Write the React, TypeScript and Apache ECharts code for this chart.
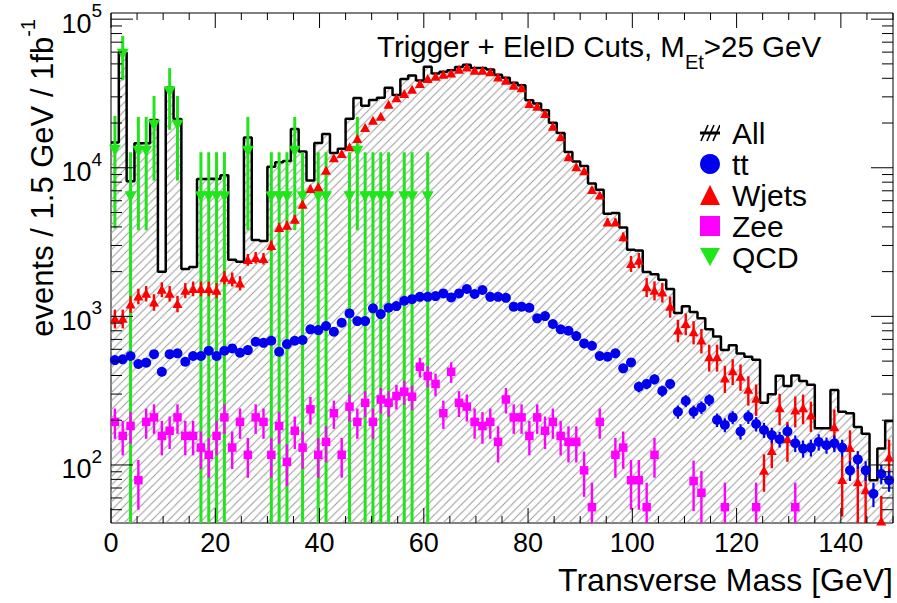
import { useEffect, useRef } from 'react';
import * as echarts from 'echarts';

const FONT = '"Liberation Sans", Arial, Helvetica, sans-serif';

const BIN_WIDTH = 1.5;
const X_MIN = 0;
const X_MAX = 150;
const Y_MIN = 40.7;
const Y_MAX = 110000;

const xTickValues = [0, 5, 10, 15, 20, 25, 30, 35, 40, 45, 50, 55, 60, 65, 70, 75, 80, 85, 90, 95, 100, 105, 110, 115, 120, 125, 130, 135, 140, 145, 150];
const yMajorTicks = [100, 1000, 10000, 100000];
const yMinorTicks = [50, 60, 70, 80, 90, 200, 300, 400, 500, 600, 700, 800, 900, 2000, 3000, 4000, 5000, 6000, 7000, 8000, 9000, 20000, 30000, 40000, 50000, 60000, 70000, 80000, 90000];

// "All" histogram (one value per 1.5 GeV bin)
const allHist = [
  14770, 59600, 8100, 14600, 14600, 21000, 2000, 34500, 21300, 2080,
  2150, 8400, 8450, 8400, 8900, 2400, 2330, 16000, 3260, 3220,
  10150, 10900, 11100, 18200, 12850, 8200, 14650, 16900, 12550, 13400,
  21400, 29500, 26100, 28550, 29600, 34600, 30900, 39600, 41700, 38700,
  47800, 43000, 44250, 45270, 47690, 49400, 46900, 47000, 45750, 42300,
  40400, 37270, 35970, 28450, 27080, 24375, 20120, 17125, 12790, 11020,
  10280, 7830, 7100, 4900, 4960, 3960, 2810, 2770, 1990, 1920,
  1765, 1530, 1055, 1170, 1070, 970, 820, 732, 595, 640,
  563, 534, 510, 262, 299, 398, 340, 400, 368, 347,
  177, 177, 320, 228, 223, 180, 162, 79, 129, 198,
];

const ttVals = [
  508, 514, 541, 478, 488, 557, 424, 557, 564, 495,
  541, 541, 587, 541, 587, 609, 569, 593, 675, 664,
  685, 578, 651, 685, 693, 818, 809, 861, 788, 906,
  1047, 929, 929, 1132, 1036, 1143, 1173, 1273, 1306, 1354,
  1354, 1370, 1428, 1342, 1428, 1528, 1414, 1504, 1354, 1354,
  1333, 1162, 1162, 1143, 970, 1005, 888, 818, 800, 737,
  658, 634, 541, 535, 564, 447, 490, 336, 351, 377,
  315, 351, 228, 270, 228, 244, 274, 201, 186, 209,
  168, 211, 189, 172, 159, 149, 168, 140, 129, 131,
  143, 136, 140, 131, 92, 109, 92, 64, 87, 79,
];
const ttErr = [
  32, 32, 33, 31, 31, 33, 29, 33, 34, 31,
  33, 33, 34, 33, 34, 35, 34, 34, 37, 36,
  37, 34, 36, 37, 37, 40, 40, 41, 40, 43,
  46, 43, 43, 48, 46, 48, 48, 50, 51, 52,
  52, 52, 53, 52, 53, 55, 53, 55, 52, 52,
  52, 48, 48, 48, 44, 45, 42, 40, 40, 38,
  36, 36, 33, 33, 34, 32, 32, 28, 28, 29,
  27, 28, 23, 25, 23, 24, 25, 21, 20, 21,
  20, 22, 21, 20, 19, 18, 19, 18, 17, 17,
  18, 17, 18, 17, 14, 15, 14, 12, 13, 13,
];

const wjetsVals = [
  970, 970, 1210, 1370, 1430, 1250, 1520, 1430, 1220, 1500,
  1540, 1540, 1540, 1500, 1830, 1780, 1680, 2410, 2490, 2450,
  3000, 3960, 4110, 4510, 5690, 7260, 7450, 9640, 11670, 12480,
  13830, 15750, 18680, 20900, 22230, 26770, 29540, 31600, 33800, 36900,
  39840, 41300, 42600, 43500, 46000, 47700, 45300, 45300, 44200, 40800,
  38800, 35900, 34600, 27100, 25900, 23200, 19040, 16150, 11840, 10140,
  9530, 7140, 6550, 4320, 4320, 3430, 2270, 2390, 1580, 1500,
  1460, 1170, 809, 897, 788, 693, 535, 535, 385, 430,
  395, 323, 281, 92, 125, 243, 150, 234, 243, 217,
  null, null, 181, 80, 131, 77, 68, null, 42, 113,
];
const wjetsErr = [
  140, 140, 155, 165, 170, 160, 175, 170, 155, 175,
  175, 175, 175, 175, 190, 190, 185, 220, 225, 220,
  240, 280, 280, 290, 320, 340, 340, 380, 400, 400,
  420, 440, 460, 480, 500, 520, 540, 560, 580, 600,
  620, 620, 640, 640, 660, 660, 650, 650, 640, 620,
  610, 590, 580, 520, 510, 480, 440, 410, 350, 330,
  320, 290, 290, 260, 260, 240, 280, 280, 230, 220,
  220, 190, 140, 150, 140, 130, 110, 110, 80, 85,
  80, 72, 67, 26, 30, 58, 45, 55, 55, 50,
  0, 0, 55, 35, 40, 40, 30, 0, 20, 35,
];

const zeeVals = [
  195, 157, 183, 79, 195, 209, 157, 170, 209, 157,
  157, 131, 117, 157, 209, 131, 195, 117, 209, 195,
  117, 183, 105, 170, 131, 237, 117, 143, 223, 117,
  247, 195, 262, 195, 276, 262, 291, 311, 288, 458,
  397, 351, 223, 424, 262, 247, 195, 183, 195, 143,
  276, 209, 209, 157, 209, 170, 195, 157, 143, 143,
  92, 52, 195, null, 117, 131, 79, 79, 52, 117,
  null, null, null, null, 78, 65, null, null, 52, null,
  null, null, 52, null, null, null, null, 52, null, null,
  null, null, null, null, null, null, null, null, null, null,
];
const zeeErr = [
  45, 41, 44, 29, 45, 47, 41, 42, 47, 41,
  41, 37, 35, 41, 47, 37, 45, 35, 47, 45,
  35, 44, 33, 42, 37, 50, 35, 39, 48, 35,
  51, 45, 52, 45, 54, 52, 55, 57, 55, 69,
  65, 61, 48, 67, 52, 51, 45, 44, 45, 39,
  54, 47, 47, 41, 47, 42, 45, 41, 39, 39,
  31, 24, 45, 0, 35, 37, 29, 29, 24, 35,
  0, 0, 0, 0, 29, 26, 0, 0, 24, 0,
  0, 0, 24, 0, 0, 0, 0, 24, 0, 0,
  0, 0, 0, 0, 0, 0, 0, 0, 0, 0,
];

// QCD: only the filled bins
const qcdBins = [0, 1, 2, 3, 4, 5, 7, 8, 11, 12, 13, 14, 17, 20, 21, 22, 23, 24, 26, 27, 30, 31, 32, 33, 34, 35, 37, 38, 40];
const qcdVals = [13100, 58000, 6370, 12900, 12900, 19300, 32400, 19300, 6370, 6370, 6370, 6370, 12900, 6370, 6370, 6370, 12900, 6370, 6370, 6370, 6370, 12900, 6370, 6370, 6370, 6370, 6370, 6370, 6370];
const qcdErr = [9200, 19200, 6370, 9100, 9100, 11100, 14400, 11100, 6370, 6370, 6370, 6370, 9100, 6370, 6370, 6370, 9100, 6370, 6370, 6370, 6370, 9100, 6370, 6370, 6370, 6370, 6370, 6370, 6370];

const binCenter = (i: number) => (i + 0.5) * BIN_WIDTH;

const hatchSvg =
  '<svg xmlns="http://www.w3.org/2000/svg" width="8.4" height="8.4"><path d="M-1,1 L1,-1 M-1,9.4 L9.4,-1 M7.4,9.4 L9.4,7.4" stroke="#9a9a9a" stroke-width="1" fill="none"/></svg>';
const hatchUrl = 'data:image/svg+xml;charset=utf-8,' + encodeURIComponent(hatchSvg);

const allIconSvg =
  '<svg xmlns="http://www.w3.org/2000/svg" width="20" height="20"><path d="M1,18 L8,2 M7,18 L14,2 M13,18 L20,2" stroke="#000" stroke-width="1.6" fill="none"/><path d="M0,10 L20,10" stroke="#000" stroke-width="3"/></svg>';
const allIcon = 'image://data:image/svg+xml;charset=utf-8,' + encodeURIComponent(allIconSvg);

function pointsOf(vals: (number | null)[], errs: number[]) {
  const pts: number[][] = [];
  vals.forEach((v, i) => {
    if (v != null) pts.push([binCenter(i), v, errs[i]]);
  });
  return pts;
}

function errSeries(name: string, data: number[][], color: string, width: number) {
  return {
    type: 'custom',
    name,
    coordinateSystem: 'cartesian2d',
    clip: true,
    silent: true,
    encode: { x: 0, y: 1 },
    data,
    renderItem: (_p: any, api: any) => {
      const x = api.value(0);
      const v = api.value(1);
      const e = api.value(2);
      if (!e) return null;
      const hi = api.coord([x, Math.min(v + e, Y_MAX)]);
      const lo = api.coord([x, Math.max(v - e, Y_MIN)]);
      return {
        type: 'line',
        shape: { x1: hi[0], y1: hi[1], x2: lo[0], y2: lo[1] },
        style: { stroke: color, lineWidth: width },
      };
    },
  };
}

function buildOption() {
  const allPts: number[][] = allHist.map((v, i) => [i * BIN_WIDTH, v]);
  allPts.push([X_MAX, allHist[allHist.length - 1]]);

  const ttPts = pointsOf(ttVals, ttErr);
  const wPts = pointsOf(wjetsVals, wjetsErr);
  const zPts = pointsOf(zeeVals, zeeErr);
  const qPts = qcdBins.map((b, k) => [binCenter(b), qcdVals[k], qcdErr[k]]);

  const yTicks = [...yMajorTicks, ...yMinorTicks];

  return {
    animation: false,
    backgroundColor: '#ffffff',
    grid: {
      left: 111,
      top: 13,
      width: 782,
      height: 510,
      show: true,
      borderColor: '#000',
      borderWidth: 1,
      backgroundColor: 'transparent',
    },
    xAxis: {
      type: 'value',
      min: X_MIN,
      max: X_MAX,
      interval: 20,
      axisLine: { show: false },
      axisTick: { show: false },
      splitLine: { show: false },
      axisLabel: {
        margin: 6,
        color: '#000',
        fontSize: 27,
        fontFamily: FONT,
        formatter: (v: number) => (v % 20 === 0 && v <= 140 ? String(v) : ''),
      },
    },
    yAxis: {
      type: 'log',
      logBase: 10,
      min: Y_MIN,
      max: Y_MAX,
      axisLine: { show: false },
      axisTick: { show: false },
      splitLine: { show: false },
      axisLabel: {
        margin: 9,
        formatter: (v: number) => {
          const l = Math.log10(v);
          const e = Math.round(l);
          if (Math.abs(l - e) > 1e-6) return '';
          return '{b|10}{s|' + e + '}';
        },
        rich: {
          b: { fontSize: 27, fontFamily: FONT, color: '#000', lineHeight: 36, verticalAlign: 'bottom' },
          s: { fontSize: 19, fontFamily: FONT, color: '#000', lineHeight: 16, verticalAlign: 'top' },
        },
      },
    },
    legend: {
      data: [
        { name: 'All', icon: allIcon },
        { name: 'tt', icon: 'circle' },
        { name: 'Wjets', icon: 'triangle' },
        { name: 'Zee', icon: 'rect' },
        { name: 'QCD', icon: 'path://M0,0L10,0L5,9Z' },
      ],
      orient: 'vertical',
      left: 700,
      top: 118,
      padding: 0,
      itemWidth: 20,
      itemHeight: 20,
      itemGap: 1,
      selectedMode: false,
      textStyle: { fontSize: 30, fontFamily: FONT, color: '#000', padding: [0, 0, 0, 7] },
    },
    graphic: [
      {
        type: 'text',
        x: 377,
        y: 31,
        style: {
          text: '{a|Trigger + EleID Cuts, M}{b|Et}{a|>25 GeV}',
          verticalAlign: 'top',
          align: 'left',
          rich: {
            a: { fontSize: 29.5, fontFamily: FONT, fill: '#000', verticalAlign: 'top' },
            b: { fontSize: 20, fontFamily: FONT, fill: '#000', verticalAlign: 'top', padding: [21, 0, 0, 0] },
          },
        },
      },
      {
        type: 'text',
        x: 38,
        y: 19,
        rotation: Math.PI / 2,
        style: {
          text: '{a|events / 1.5 GeV / 1fb}{s|-1}',
          align: 'right',
          verticalAlign: 'middle',
          rich: {
            a: { fontSize: 31, fontFamily: FONT, fill: '#000', lineHeight: 40, verticalAlign: 'bottom' },
            s: { fontSize: 20, fontFamily: FONT, fill: '#000', lineHeight: 18, verticalAlign: 'top' },
          },
        },
      },
      {
        type: 'text',
        x: 893,
        y: 580,
        style: {
          text: 'Transverse Mass [GeV]',
          align: 'right',
          verticalAlign: 'middle',
          fontSize: 32,
          fontFamily: FONT,
          fill: '#000',
        },
      },
    ],
    series: [
      {
        type: 'line',
        name: 'All',
        data: allPts,
        step: 'end',
        symbol: 'none',
        silent: true,
        color: '#000',
        lineStyle: { color: '#000', width: 2.5 },
        areaStyle: {
          origin: 'start',
          opacity: 1,
          color: { image: hatchUrl, repeat: 'repeat', imageWidth: 8.4, imageHeight: 8.4 },
        },
        z: 1,
      },
      errSeries('QCD err', qPts, '#22e31c', 3),
      {
        type: 'scatter',
        name: 'QCD',
        data: qPts,
        symbol: 'triangle',
        symbolRotate: 180,
        symbolSize: [12, 11],
        itemStyle: { color: '#1fe618', opacity: 1 },
        color: '#1fe618',
        silent: true,
      },
      errSeries('Wjets err', wPts, '#ff0000', 2.4),
      {
        type: 'scatter',
        name: 'Wjets',
        data: wPts,
        symbol: 'triangle',
        symbolSize: [10, 9],
        itemStyle: { color: '#ff0000', opacity: 1 },
        color: '#ff0000',
        silent: true,
      },
      errSeries('tt err', ttPts, '#0000ee', 2.2),
      {
        type: 'scatter',
        name: 'tt',
        data: ttPts,
        symbol: 'circle',
        symbolSize: 10,
        itemStyle: { color: '#0000ee', opacity: 1 },
        color: '#0000ee',
        silent: true,
      },
      errSeries('Zee err', zPts, '#ff00ff', 2.4),
      {
        type: 'scatter',
        name: 'Zee',
        data: zPts,
        symbol: 'rect',
        symbolSize: 8.5,
        itemStyle: { color: '#ff00ff', opacity: 1 },
        color: '#ff00ff',
        silent: true,
      },
      {
        type: 'custom',
        name: 'xticks',
        coordinateSystem: 'cartesian2d',
        silent: true,
        clip: false,
        encode: { x: 0, y: 1 },
        data: xTickValues.map((v) => [v, Y_MIN]),
        renderItem: (_p: any, api: any) => {
          const v = api.value(0);
          const len = v % 20 === 0 ? 15 : 7;
          const b = api.coord([v, Y_MIN]);
          const t = api.coord([v, Y_MAX]);
          return {
            type: 'group',
            children: [
              { type: 'line', shape: { x1: b[0], y1: b[1], x2: b[0], y2: b[1] - len }, style: { stroke: '#000', lineWidth: 1 } },
              { type: 'line', shape: { x1: t[0], y1: t[1], x2: t[0], y2: t[1] + len }, style: { stroke: '#000', lineWidth: 1 } },
            ],
          };
        },
        z: 10,
      },
      {
        type: 'custom',
        name: 'yticks',
        coordinateSystem: 'cartesian2d',
        silent: true,
        clip: false,
        encode: { x: 0, y: 1 },
        data: yTicks.map((v) => [X_MIN, v]),
        renderItem: (_p: any, api: any) => {
          const v = api.value(1);
          const l = Math.log10(v);
          const len = Math.abs(l - Math.round(l)) < 1e-6 ? 22 : 11;
          const a = api.coord([X_MIN, v]);
          const b = api.coord([X_MAX, v]);
          return {
            type: 'group',
            children: [
              { type: 'line', shape: { x1: a[0], y1: a[1], x2: a[0] + len, y2: a[1] }, style: { stroke: '#000', lineWidth: 1 } },
              { type: 'line', shape: { x1: b[0], y1: b[1], x2: b[0] - len, y2: b[1] }, style: { stroke: '#000', lineWidth: 1 } },
            ],
          };
        },
        z: 10,
      },
    ],
  };
}

export default function App() {
  const ref = useRef<HTMLDivElement>(null);
  useEffect(() => {
    if (!ref.current) return;
    const chart = echarts.init(ref.current, null, { renderer: 'svg' });
    chart.setOption(buildOption() as any);
    return () => chart.dispose();
  }, []);
  return (
    <div
      ref={ref}
      style={{ position: 'fixed', left: 0, top: 0, width: 897, height: 603, background: '#fff' }}
    />
  );
}
